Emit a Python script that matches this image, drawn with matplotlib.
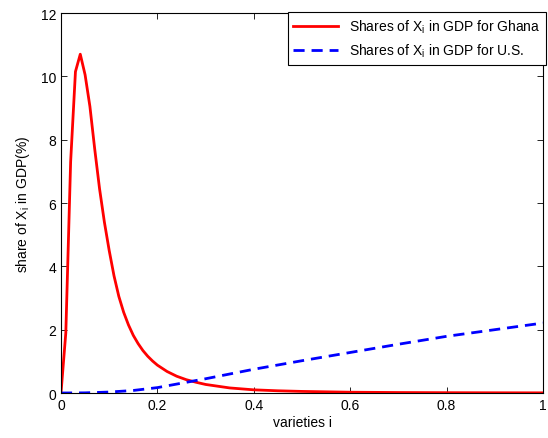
"""Shares of varieties X_i in GDP, Ghana vs U.S."""

from matplotlib import pyplot

# Share of each variety in GDP (%), Ghana.
x_ghana = [0.00, 0.01, 0.02, 0.03, 0.04, 0.05, 0.06, 0.07, 0.08, 0.09,
           0.10, 0.11, 0.12, 0.13, 0.14, 0.15, 0.16, 0.17, 0.18, 0.19,
           0.20, 0.22, 0.24, 0.26, 0.28, 0.30, 0.35, 0.40, 0.45, 0.50,
           0.60, 0.70, 0.80, 0.90, 1.00]
y_ghana = [0.0, 1.9, 7.3, 10.15, 10.7, 10.05, 9.05, 7.7, 6.45, 5.4,
           4.5, 3.7, 3.05, 2.55, 2.15, 1.82, 1.56, 1.34, 1.16, 1.01,
           0.88, 0.68, 0.53, 0.42, 0.34, 0.27, 0.16, 0.10, 0.07, 0.05,
           0.025, 0.015, 0.01, 0.007, 0.005]

# Share of each variety in GDP (%), U.S.
x_us = [0.00, 0.05, 0.10, 0.15, 0.20, 0.25, 0.30, 0.35, 0.40, 0.50,
        0.60, 0.70, 0.80, 0.90, 1.00]
y_us = [0.0, 0.005, 0.03, 0.08, 0.17, 0.31, 0.45, 0.60, 0.75, 1.02,
        1.28, 1.54, 1.79, 2.00, 2.21]

xticks = [0.0, 0.2, 0.4, 0.6, 0.8, 1.0]
xticklabels = ['0', '0.2', '0.4', '0.6', '0.8', '1']
yticks = [0, 2, 4, 6, 8, 10, 12]

pyplot.rc('font', family='Liberation Sans', size=10)
pyplot.rc('mathtext', default='regular')

fig = pyplot.figure(figsize=(5.48, 4.39), dpi=100)
ax = fig.add_axes([0.1113, 0.1025, 0.8796, 0.8655])

ax.plot(x_ghana, y_ghana, color='red', linewidth=2.0,
        label='Shares of X$_i$ in GDP for Ghana')
ax.plot(x_us, y_us, color='blue', linewidth=2.0, linestyle=(0, (4, 2.5)),
        label='Shares of X$_i$ in GDP for U.S.')

ax.set_xlim(0.0, 1.0)
ax.set_ylim(0.0, 12.0)
ax.set_xticks(xticks)
ax.set_xticklabels(xticklabels)
ax.set_yticks(yticks)
ax.tick_params(direction='in', top=True, right=True, length=4,
               width=0.6, labelsize=10)
for spine in ax.spines.values():
    spine.set_linewidth(0.8)
ax.set_xlabel('varieties i', labelpad=2)
ax.set_ylabel('share of X$_i$ in GDP(%)', labelpad=6)

legend = ax.legend(loc='upper right', bbox_to_anchor=(1.006, 1.003),
                   borderaxespad=0.0, fancybox=False, framealpha=1.0,
                   edgecolor='black', handlelength=3.2, fontsize=10)
legend.get_frame().set_linewidth(0.8)

fig.savefig('out.png', dpi=100)
